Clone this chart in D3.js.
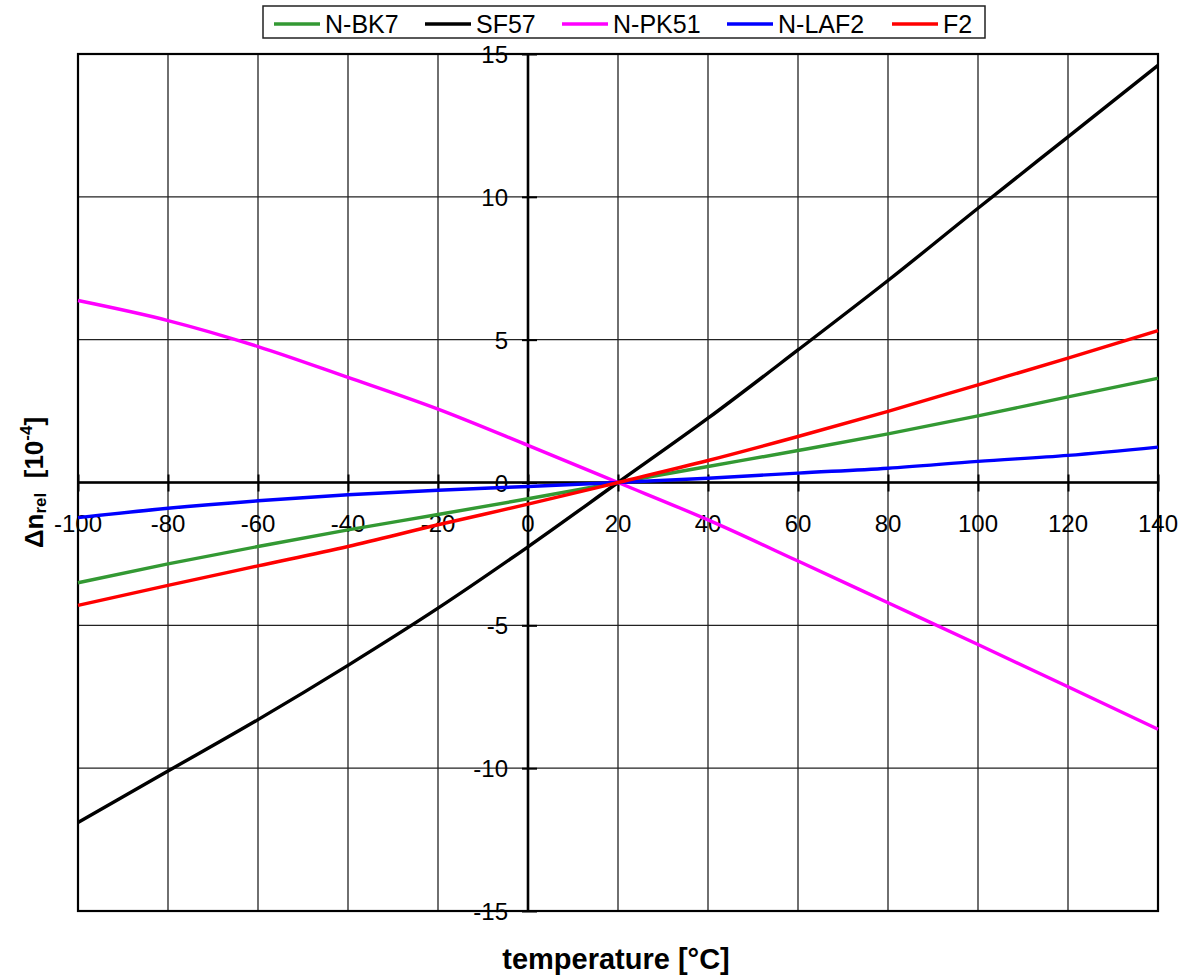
<!DOCTYPE html>
<html>
<head>
<meta charset="utf-8">
<script src="https://cdn.jsdelivr.net/npm/d3@7"></script>
<style>
  body { margin: 0; background: #fff; }
  svg { display: block; font-family: "Liberation Sans", Arial, sans-serif; }
</style>
</head>
<body>
<svg id="chart" width="1191" height="979"></svg>
<script>
// temperatures [°C]
const temps = [-100, -80, -60, -40, -20, 0, 20, 40, 60, 80, 100, 120, 140];

// relative index change, units of 1e-4
const nbk7  = [-3.51, -2.85, -2.24, -1.66, -1.12, -0.57, 0, 0.56, 1.12, 1.70, 2.33, 3.00, 3.65];
const sf57  = [-11.9, -10.1, -8.3, -6.4, -4.4, -2.25, 0, 2.25, 4.64, 7.07, 9.6, 12.1, 14.6];
const npk51 = [6.37, 5.67, 4.76, 3.68, 2.57, 1.3, 0, -1.31, -2.75, -4.21, -5.67, -7.15, -8.64];
const nlaf2 = [-1.23, -0.9, -0.64, -0.43, -0.27, -0.14, 0, 0.15, 0.33, 0.5, 0.74, 0.95, 1.24];
const f2    = [-4.3, -3.6, -2.92, -2.24, -1.48, -0.76, 0, 0.77, 1.61, 2.49, 3.42, 4.35, 5.32];

const seriesNames  = ['N-BK7', 'SF57', 'N-PK51', 'N-LAF2', 'F2'];
const seriesValues = [nbk7, sf57, npk51, nlaf2, f2];
const seriesColors = ['#339933', '#000000', '#ff00ff', '#0000ff', '#ff0000'];

const xTicks = [-100, -80, -60, -40, -20, 0, 20, 40, 60, 80, 100, 120, 140];
const yTicks = [-15, -10, -5, 0, 5, 10, 15];

const svg = d3.select('#chart');
const margin = { top: 54, right: 33, bottom: 68, left: 78 },
      width = 1191 - margin.left - margin.right,
      height = 979 - margin.top - margin.bottom;

const x = d3.scaleLinear().domain([-100, 140]).range([margin.left, margin.left + width]);
const y = d3.scaleLinear().domain([-15, 15]).range([margin.top + height, margin.top]);

const x0 = x(0), y0 = y(0);

// grid
svg.append('g')
  .selectAll('line')
  .data(xTicks)
  .join('line')
  .attr('x1', d => x(d)).attr('x2', d => x(d))
  .attr('y1', margin.top).attr('y2', margin.top + height)
  .attr('stroke', '#222').attr('stroke-width', 1.3);

svg.append('g')
  .selectAll('line')
  .data(yTicks)
  .join('line')
  .attr('x1', margin.left).attr('x2', margin.left + width)
  .attr('y1', d => y(d)).attr('y2', d => y(d))
  .attr('stroke', '#222').attr('stroke-width', 1.3);

// plot frame
svg.append('rect')
  .attr('x', margin.left).attr('y', margin.top)
  .attr('width', width).attr('height', height)
  .attr('fill', 'none').attr('stroke', '#000').attr('stroke-width', 2.2);

// axes through zero
const xAxis = d3.axisBottom(x).tickValues(xTicks).tickSize(17).tickFormat('');
svg.append('g')
  .attr('transform', `translate(0,${y0 - 8})`)
  .call(xAxis)
  .call(g => g.select('.domain').remove())
  .call(g => g.selectAll('.tick line').attr('stroke', '#000').attr('stroke-width', 2));

const yAxis = d3.axisRight(y).tickValues(yTicks).tickSize(15).tickFormat('');
svg.append('g')
  .attr('transform', `translate(${x0 - 6},0)`)
  .call(yAxis)
  .call(g => g.select('.domain').remove())
  .call(g => g.selectAll('.tick line').attr('stroke', '#000').attr('stroke-width', 2));

svg.append('line')
  .attr('x1', margin.left).attr('x2', margin.left + width)
  .attr('y1', y0).attr('y2', y0)
  .attr('stroke', '#000').attr('stroke-width', 2.6);

svg.append('line')
  .attr('x1', x0).attr('x2', x0)
  .attr('y1', margin.top).attr('y2', margin.top + height)
  .attr('stroke', '#000').attr('stroke-width', 2.6);

// tick labels
svg.append('g')
  .selectAll('text')
  .data(xTicks)
  .join('text')
  .attr('x', d => x(d))
  .attr('y', y0 + 49)
  .attr('text-anchor', 'middle')
  .attr('font-size', 24)
  .text(d => d);

svg.append('g')
  .selectAll('text')
  .data(yTicks)
  .join('text')
  .attr('x', x0 - 20)
  .attr('y', d => y(d) + 9)
  .attr('text-anchor', 'end')
  .attr('font-size', 24)
  .text(d => d);

// series
const line = d3.line()
  .x(d => x(d[0]))
  .y(d => y(d[1]))
  .curve(d3.curveMonotoneX);

seriesValues.forEach((vals, i) => {
  svg.append('path')
    .datum(temps.map((t, j) => [t, vals[j]]))
    .attr('fill', 'none')
    .attr('stroke', seriesColors[i])
    .attr('stroke-width', 3.4)
    .attr('d', line);
});

// axis titles
svg.append('text')
  .attr('x', 616)
  .attr('y', 969)
  .attr('text-anchor', 'middle')
  .attr('font-size', 29)
  .attr('font-weight', 'bold')
  .text('temperature [°C]');

const yTitle = svg.append('text')
  .attr('transform', `translate(43,${y0}) rotate(-90)`)
  .attr('text-anchor', 'middle')
  .attr('font-size', 26)
  .attr('font-weight', 'bold');
yTitle.append('tspan').text('Δn');
yTitle.append('tspan').attr('font-size', 17).attr('dy', 3).text('rel');
yTitle.append('tspan').attr('dy', -3).text('\u00a0 [10');
yTitle.append('tspan').attr('font-size', 17).attr('dy', -11).text('-4');
yTitle.append('tspan').attr('dy', 11).text(']');

// legend
const legend = svg.append('g');
legend.append('rect')
  .attr('x', 263).attr('y', 6)
  .attr('width', 722).attr('height', 32)
  .attr('fill', '#fff').attr('stroke', '#222').attr('stroke-width', 1.5);

const legendX = [274, 425, 562, 727, 892];
seriesNames.forEach((name, i) => {
  const g = legend.append('g').attr('transform', `translate(${legendX[i]},0)`);
  g.append('line')
    .attr('x1', 0).attr('x2', 46)
    .attr('y1', 24).attr('y2', 24)
    .attr('stroke', seriesColors[i]).attr('stroke-width', 3.4);
  g.append('text')
    .attr('x', 51).attr('y', 33)
    .attr('font-size', 25)
    .text(name);
});
</script>
</body>
</html>
